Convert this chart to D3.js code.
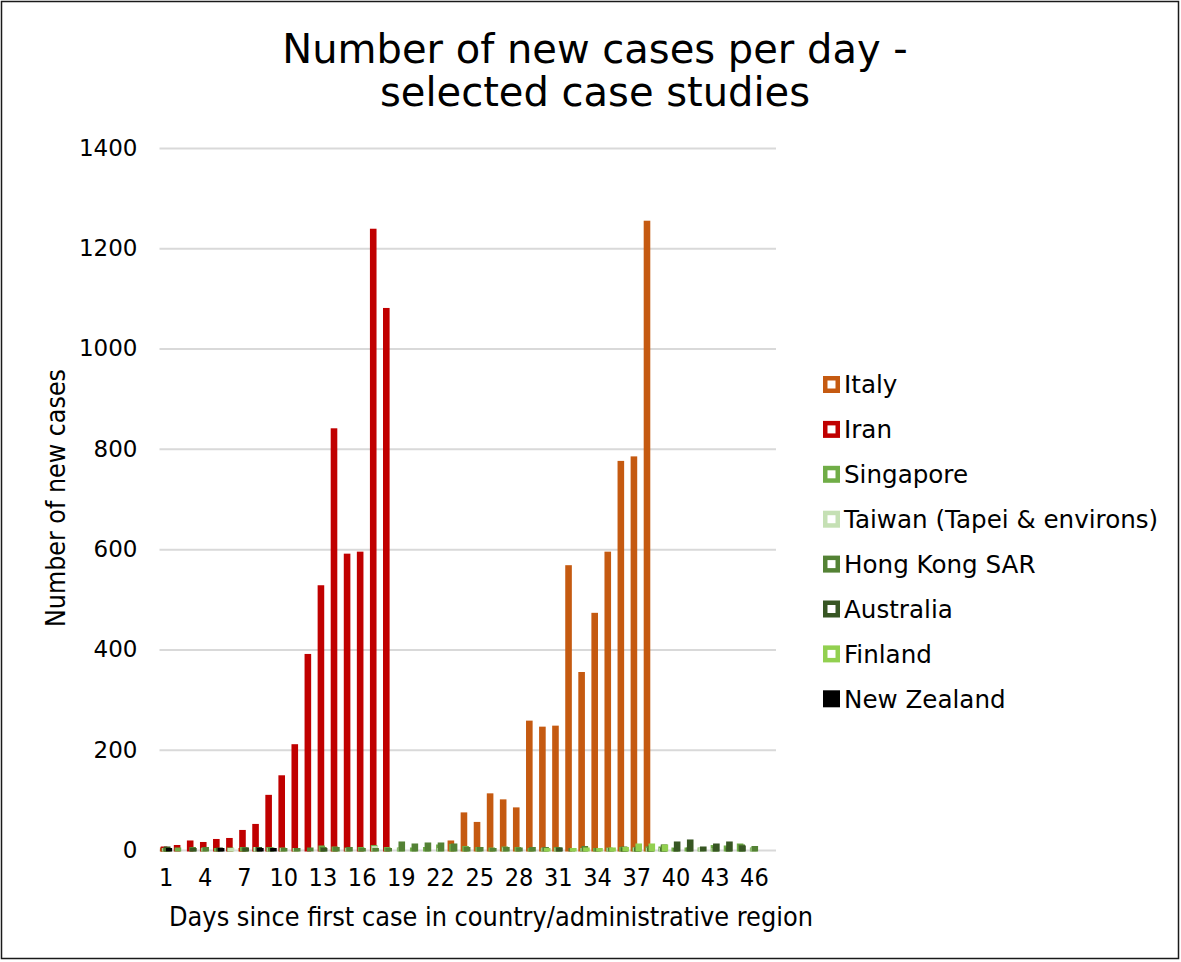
<!DOCTYPE html>
<html>
<head>
<meta charset="utf-8">
<script src="https://cdn.jsdelivr.net/npm/d3@7"></script>
<style>
  html, body { margin: 0; padding: 0; background: #fff; }
  svg { display: block; }
</style>
</head>
<body>
<svg id="chart" width="1181" height="962"></svg>
<script>
// ---------- DATA ----------
const days = [1,2,3,4,5,6,7,8,9,10,11,12,13,14,15,16,17,18,19,20,21,22,23,24,25,26,27,28,29,30,31,32,33,34,35,36,37,38,39,40,41,42,43,44,45,46,47];
const xTickLabels = [1,4,7,10,13,16,19,22,25,28,31,34,37,40,43,46];
const yTicks = [0,200,400,600,800,1000,1200,1400];

const seriesNames = ["Italy","Iran","Singapore","Taiwan (Tapei & environs)","Hong Kong SAR","Australia","Finland","New Zealand"];
const seriesColors = ["#c55a11","#c00000","#70ad47","#c5e0b4","#548235","#375623","#92d050","#000000"];

const italy = [2,0,0,0,0,0,1,0,0,0,0,0,0,0,0,0,0,0,0,0,0,0,16,72,53,110,98,82,255,243,245,565,352,470,592,773,782,1252,null,null,null,null,null,null,null,null,null];
const iran = [4,7,16,13,19,21,37,49,107,146,208,388,525,838,588,592,1236,1078,null,null,null,null,null,null,null,null,null,null,null,null,null,null,null,null,null,null,null,null,null,null,null,null,null,null,null,null,null];
const singapore = [1,2,0,1,1,2,3,3,3,2,1,0,6,4,2,3,7,3,2,2,3,8,9,5,3,2,4,3,1,1,3,0,1,1,2,3,2,4,4,2,2,2,7,6,10,2,null];
const taiwan = [1,0,0,2,0,1,0,3,1,1,1,0,0,0,1,0,5,0,1,0,0,1,0,0,0,0,2,0,0,2,1,0,1,0,1,0,2,1,1,0,0,2,1,0,0,1,0];
const hongKong = [2,0,3,3,0,0,2,0,2,1,1,2,3,3,3,1,1,1,14,10,12,12,10,3,3,1,3,2,3,3,2,1,5,1,1,4,2,1,1,1,2,0,4,2,8,5,null];
const australia = [4,0,1,0,2,0,2,3,0,0,0,0,1,0,0,0,0,0,0,0,0,0,0,0,0,0,0,0,0,0,2,0,0,0,0,1,4,6,8,14,18,4,10,14,6,null,null];
const finland = [1,0,0,0,0,0,0,0,0,0,0,0,0,0,0,0,0,0,0,0,0,0,0,0,0,0,0,0,0,1,0,1,2,1,2,3,10,10,8,null,null,null,null,null,null,null,null];
const newZealand = [1,0,0,0,1,0,0,1,1,0,null,null,null,null,null,null,null,null,null,null,null,null,null,null,null,null,null,null,null,null,null,null,null,null,null,null,null,null,null,null,null,null,null,null,null,null,null];

const seriesValues = [italy, iran, singapore, taiwan, hongKong, australia, finland, newZealand];

// ---------- LAYOUT ----------
const svg = d3.select("#chart");
const W = 1181, H = 962;
const plot = { left: 159.5, right: 774, top: 148, bottom: 850 };

svg.append("rect")
  .attr("x", 1.5).attr("y", 1.5)
  .attr("width", W - 4).attr("height", H - 5)
  .attr("fill", "#fff").attr("stroke", "#1a1a1a").attr("stroke-width", 1.5);

const x = d3.scaleBand().domain(days).range([plot.left, plot.right]).paddingInner(0).paddingOuter(0);
const y = d3.scaleLinear().domain([0, 1400]).range([plot.bottom, plot.top]);

// gridlines + y axis
const yAxis = d3.axisLeft(y).tickValues(yTicks).tickFormat(d3.format("d"))
  .tickSize(-(plot.right - plot.left + 2)).tickPadding(22);
const gy = svg.append("g").attr("transform", `translate(${plot.left},0)`).call(yAxis);
gy.select(".domain").remove();
gy.selectAll(".tick line").attr("stroke", "#d9d9d9").attr("stroke-width", 2);
gy.selectAll(".tick text")
  .attr("fill", "#000")
  .style("font-family", "'DejaVu Sans', Verdana, sans-serif")
  .style("font-size", "23px");

// bars
const barW = 3.6;
const shift = 0.8;
seriesValues.forEach((vals, i) => {
  const data = days.map((d, k) => ({ day: d, v: vals[k] })).filter(o => o.v !== null);
  const off = (i - 3.5) * shift;
  svg.append("g")
    .selectAll("rect")
    .data(data)
    .join("rect")
    .attr("x", d => x(d.day) + x.bandwidth() / 2 + off - barW / 2)
    .attr("width", barW)
    .attr("y", d => y(d.v))
    .attr("height", d => y(0) - y(d.v))
    .attr("fill", seriesColors[i])
    .attr("stroke", seriesColors[i])
    .attr("stroke-width", 3);
});

// x axis
const xAxis = d3.axisBottom(x).tickValues(xTickLabels).tickSize(0).tickPadding(18);
const gx = svg.append("g").attr("transform", `translate(0,${plot.bottom})`).call(xAxis);
gx.select(".domain").remove();
gx.selectAll(".tick text")
  .attr("fill", "#000")
  .style("font-family", "'DejaVu Sans Condensed', 'DejaVu Sans', sans-serif")
  .style("font-size", "25px");

// axis titles
svg.append("text")
  .attr("x", 491).attr("y", 926)
  .attr("text-anchor", "middle")
  .style("font-family", "'DejaVu Sans Condensed', 'DejaVu Sans', sans-serif")
  .style("font-size", "26.8px")
  .text("Days since first case in country/administrative region");

svg.append("text")
  .attr("transform", "translate(65,498) rotate(-90)")
  .attr("text-anchor", "middle")
  .style("font-family", "'DejaVu Sans Condensed', 'DejaVu Sans', sans-serif")
  .style("font-size", "26.5px")
  .text("Number of new cases");

// title
const title = svg.append("text")
  .attr("text-anchor", "middle")
  .style("font-family", "'DejaVu Sans', Verdana, sans-serif")
  .style("font-size", "40px")
  .attr("fill", "#000");
title.append("tspan").attr("x", 595).attr("y", 63).text("Number of new cases per day -");
title.append("tspan").attr("x", 595).attr("y", 106).text("selected case studies");

// legend
const lg = svg.append("g");
seriesNames.forEach((name, i) => {
  const cy = 384.5 + i * 44.9;
  const g = lg.append("g");
  g.append("rect").attr("x", 823).attr("y", cy - 8.5).attr("width", 17).attr("height", 17).attr("fill", seriesColors[i]);
  if (i < 7) {
    g.append("rect").attr("x", 827.5).attr("y", cy - 4).attr("width", 8).attr("height", 8).attr("fill", "#fff");
  }
  g.append("text")
    .attr("x", 844).attr("y", cy)
    .attr("dy", "0.36em")
    .style("font-family", "'DejaVu Sans', Verdana, sans-serif")
    .style("font-size", "24.6px")
    .attr("fill", "#000")
    .text(name);
});
</script>
</body>
</html>
